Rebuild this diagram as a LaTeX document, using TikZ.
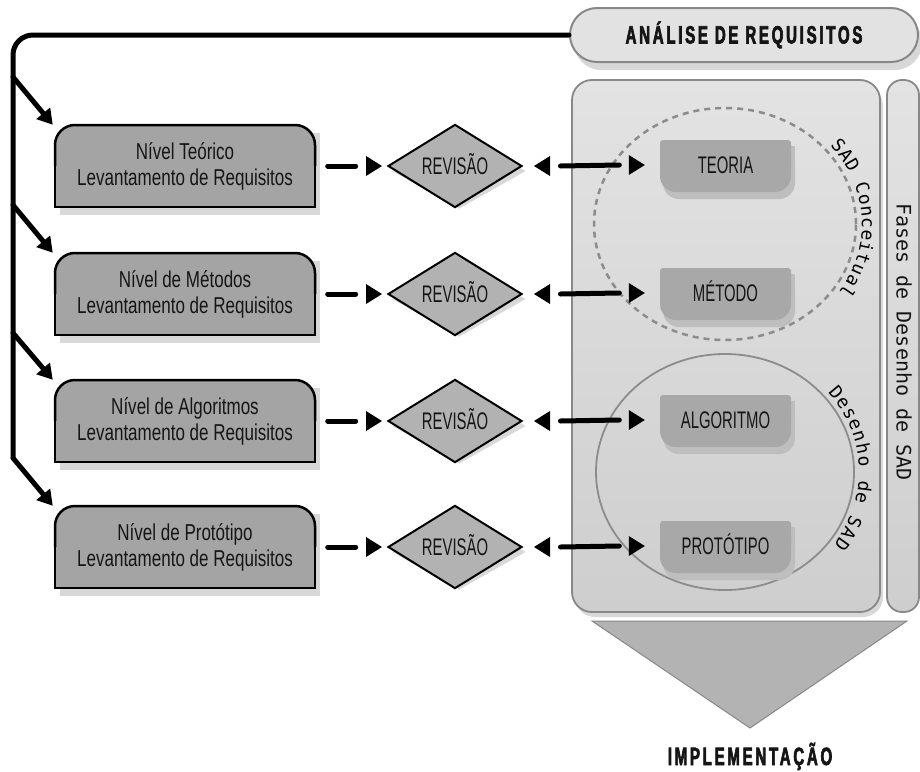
\documentclass[tikz,border=0pt]{standalone}
\usepackage{fontspec}
\setmainfont{Liberation Sans}
\newfontfamily\lvlfont[FakeStretch=0.74]{Liberation Sans}
\newfontfamily\capfont[FakeStretch=0.62]{Liberation Sans}
\newfontfamily\headfont[FakeStretch=0.6,LetterSpace=11,BoldFeatures={FakeBold=2.5}]{Liberation Sans}
\newfontfamily\monofont{DejaVu Sans Mono}
\usetikzlibrary{arrows.meta,calc,shapes.geometric,decorations.text}

\definecolor{boxgray}{HTML}{A4A4A4}
\definecolor{revgray}{HTML}{B2B2B2}
\definecolor{shadowgray}{HTML}{D8D8D8}
\definecolor{rim}{HTML}{888888}
\definecolor{paneltop}{HTML}{E3E3E3}
\definecolor{panelbot}{HTML}{CECECE}
\definecolor{hdrfill}{HTML}{E2E2E2}
\definecolor{innermain}{HTML}{A8A8A8}
\definecolor{innershade}{HTML}{BEBEBE}
\definecolor{arrowgray}{HTML}{B3B3B3}
\definecolor{ellgray}{HTML}{8C8C8C}
\definecolor{ink}{HTML}{151515}

\newcommand\arcfont{\monofont\fontsize{18}{18}\selectfont}

% level box: rounded top corners, square bottom, drop shadow
\newcommand\lvlbox[3]{%
  \fill[shadowgray] (60,#2-33) rectangle (320,#2+49);
  \fill[boxgray,rounded corners=20pt] (55,#2-41) rectangle (315,#2+41);
  \fill[boxgray] (55,#2) rectangle (315,#2+41);
  \draw[lvlrim,rounded corners=20pt] (55,#2) -- (55,#2-41) -- (315,#2-41) -- (315,#2);
  \draw[lvlrim] (55,#2) -- (55,#2+41) -- (315,#2+41) -- (315,#2);
  \node[lvl] (#1) at (185,#2) {#3};}

% phase tab inside the panel: flat top, rounded bottom, lighter lower band
\newcommand\phasebox[3]{%
  \fill[innershade,rounded corners=16pt] (663,#2-20) rectangle (795,#2+33);
  \fill[innershade] (663,#2-20) rectangle (795,#2);
  \fill[innermain,rounded corners=16pt] (660,#2-26) rectangle (791,#2+26);
  \fill[innermain,rounded corners=3pt] (660,#2-26) rectangle (791,#2);
  \node[phase] (#1) at (725.5,#2-1) {#3};}

% review diamond with its shadow
\newcommand\revnode[2]{%
  \node[revbox,draw=none,fill=shadowgray] (#1s) at (459,#2+5) {};
  \node[revbox] (#1) at (455,#2) {REVISÃO};}

% links: level -> review <-> phase
\newcommand\revlink[3]{%
  \draw[conn] ($(#1.east)+(12.5,0)$) -- ($(#1.east)+(40.5,0)$);
  \fill ($(#2.west)+(-5,0)$) -- ++(-16,-10) -- ++(0,20) -- cycle;
  \fill ($(#2.east)+(11,0)$) -- ++(16,-10) -- ++(0,20) -- cycle;
  \draw[conn] ($(#2.east)+(37.5,0)$) -- ($(#3.west)+(-40.5,0)$);
  \fill ($(#3.west)+(-15,0)$) -- ++(-16,-10) -- ++(0,20) -- cycle;}

\begin{document}
\begin{tikzpicture}[x=1pt,y=-1pt,
  trunk/.style={line width=5pt,draw=black,line cap=round},
  branch/.style={line width=5pt,draw=black,line cap=round,-{Triangle[length=15pt,width=17pt]}},
  conn/.style={line width=5pt,draw=black,line cap=round},
  lvlrim/.style={draw=black,line width=2.5pt},
  lvl/.style={minimum width=260pt,minimum height=82pt,inner sep=0pt,align=center,
    font=\lvlfont\fontsize{23}{26}\selectfont,text=ink},
  revbox/.style={diamond,draw=black,line width=2pt,fill=revgray,minimum width=134pt,
    minimum height=76pt,inner sep=0pt,font=\capfont\fontsize{24}{24}\selectfont,
    text height=17pt,text depth=0pt,text=ink},
  phase/.style={minimum width=131pt,minimum height=40pt,inner sep=0pt,
    font=\capfont\fontsize{24}{24}\selectfont,text height=17pt,text depth=0pt,text=ink},
  hdrbox/.style={draw=rim,line width=2pt,fill=hdrfill,rounded corners=27pt,
    minimum width=348pt,minimum height=54pt,inner sep=0pt,
    font=\headfont\bfseries\fontsize{25}{25}\selectfont,text height=17pt,text depth=0pt,text=ink},
  arctext/.style={decorate,decoration={text along path,text align=fit to path,
    text={|\arcfont|#1}}}
]
\useasboundingbox (0,0) rectangle (920,771);
\fill[white] (0,0) rectangle (920,771);

% header
\fill[shadowgray,rounded corners=27pt] (574,15) rectangle (922,70);
\node[hdrbox] (hdr) at (744,35) {ANÁLISE DE REQUISITOS};

% implementation arrow
\filldraw[fill=arrowgray,draw=rim,line width=1pt] (592,621) -- (907,621) -- (750,728) -- cycle;
\node[font=\headfont\bfseries\fontsize{25}{25}\selectfont,text=ink,anchor=base] (impl) at (750,765) {IMPLEMENTAÇÃO};

% phase panels
\fill[shadowgray,rounded corners=20pt] (575,86) rectangle (883,617);
\draw[draw=rim,line width=1.8pt,top color=paneltop,bottom color=panelbot,rounded corners=20pt]
  (572,80) rectangle (880,612);
\draw[draw=rim,line width=1.8pt,top color=paneltop,bottom color=panelbot,rounded corners=15pt]
  (887,80) rectangle (919,612);
\node[rotate=-90,font=\monofont\fontsize{20}{20}\selectfont,text=ink] (fases) at (904,342)
  {Fases de Desenho de SAD};

% grouping ellipses
\node[ellipse,draw=ellgray,dash pattern=on 6pt off 5pt,line width=2.5pt,
  minimum width=262pt,minimum height=232pt,inner sep=0pt] (concept) at (725,224) {};
\node[ellipse,draw=ellgray,line width=1.8pt,
  minimum width=258pt,minimum height=236pt,inner sep=0pt] (design) at (725,472) {};
\path[arctext={SAD Conceitual}]
  ($(concept.center)+({137*cos(-40)},{122*sin(-40)})$)
  arc[start angle=-40,end angle=34,x radius=137,y radius=122];
\path[arctext={Desenho de SAD}]
  ($(design.center)+({134*cos(-40)},{124*sin(-40)})$)
  arc[start angle=-40,end angle=36,x radius=134,y radius=124];

% phase tabs
\phasebox{p1}{166}{TEORIA}
\phasebox{p2}{294}{MÉTODO}
\phasebox{p3}{421}{ALGORITMO}
\phasebox{p4}{547}{PROTÓTIPO}

% requirement levels
\lvlbox{b1}{166}{Nível Teórico\\Levantamento de Requisitos}
\lvlbox{b2}{294}{Nível de Métodos\\Levantamento de Requisitos}
\lvlbox{b3}{421}{Nível de Algoritmos\\Levantamento de Requisitos}
\lvlbox{b4}{547}{Nível de Protótipo\\Levantamento de Requisitos}

% reviews
\revnode{d1}{166}
\revnode{d2}{294}
\revnode{d3}{421}
\revnode{d4}{547}

\revlink{b1}{d1}{p1}
\revlink{b2}{d2}{p2}
\revlink{b3}{d3}{p3}
\revlink{b4}{d4}{p4}

% trunk from the requirements analysis down the left side
\coordinate (j1) at (13,77);
\coordinate (j2) at (13,205);
\coordinate (j3) at (13,333);
\coordinate (j4) at (13,458);
\draw[trunk,rounded corners=20pt] (hdr.west) -| (j4);
\draw[branch] (j1) -- ($(b1.north west)+(-2,0)$);
\draw[branch] (j2) -- ($(b2.north west)+(-2,0)$);
\draw[branch] (j3) -- ($(b3.north west)+(-2,0)$);
\draw[branch] (j4) -- ($(b4.north west)+(-2,0)$);
\end{tikzpicture}
\end{document}
